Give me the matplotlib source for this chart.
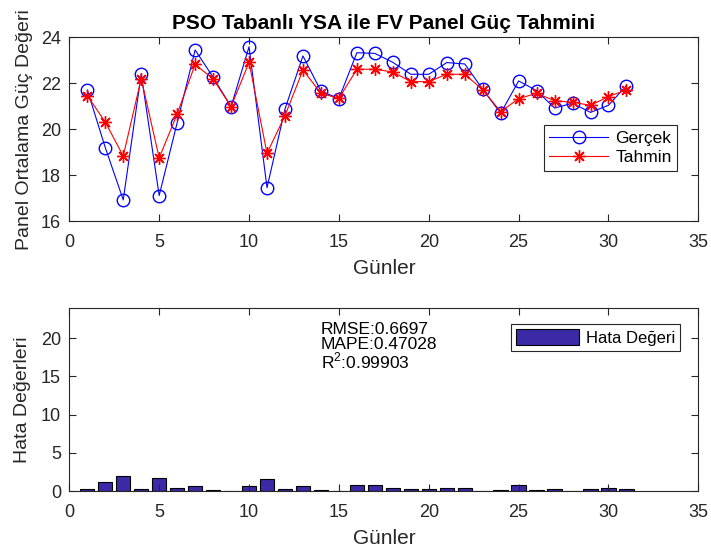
import matplotlib
matplotlib.use('Agg')
import matplotlib.pyplot as plt
import numpy as np

plt.rcParams['font.family'] = ['Liberation Sans', 'DejaVu Sans']
plt.rcParams['mathtext.fontset'] = 'custom'
plt.rcParams['mathtext.rm'] = 'Liberation Sans'

# gunler (days)
gunler = np.arange(1, 32)

# olculen (gercek) panel gucu
gercek = [21.71, 19.20, 16.92, 22.40, 17.11, 20.28, 23.45, 22.26, 20.98, 23.59,
          17.45, 20.88, 23.19, 21.66, 21.33, 23.33, 23.30, 22.91, 22.39, 22.39,
          22.90, 22.84, 21.74, 20.69, 22.10, 21.68, 20.92, 21.13, 20.73, 21.04,
          21.90]

# PSO-YSA tahmini
tahmin = [21.46, 20.31, 18.83, 22.20, 18.75, 20.66, 22.82, 22.19, 20.98, 22.91,
          18.95, 20.59, 22.58, 21.56, 21.34, 22.61, 22.61, 22.49, 22.07, 22.07,
          22.39, 22.39, 21.72, 20.76, 21.33, 21.56, 21.24, 21.17, 21.04, 21.42,
          21.71]

# hata degerleri (bar)
hata = [0.22, 1.16, 1.94, 0.22, 1.64, 0.43, 0.60, 0.09, 0.04, 0.65,
        1.51, 0.26, 0.60, 0.13, 0.04, 0.73, 0.73, 0.43, 0.30, 0.30,
        0.45, 0.45, 0.03, 0.10, 0.77, 0.12, 0.30, 0.05, 0.30, 0.40,
        0.20]

metin = ['RMSE:0.6697', 'MAPE:0.47028', 'R$^{2}$:0.99903']

eksen_renk = '#262626'
fs_tick = 13
fs_xlabel = 15
fs_ylabel = 14


def eksen_ayar(ax):
    ax.tick_params(direction='in', top=True, right=True, length=5, width=0.8,
                   labelsize=fs_tick, colors=eksen_renk)
    ax.tick_params(axis='x', pad=9)
    ax.tick_params(axis='y', pad=6)
    for s in ax.spines.values():
        s.set_color(eksen_renk)
        s.set_linewidth(0.8)


fig = plt.figure(figsize=(7.11, 5.52), dpi=100)

# ust grafik
ax1 = fig.add_axes([0.0975, 0.5996, 0.8847, 0.3328])
ax1.plot(gunler, gercek, color='blue', lw=0.8, marker='o', ms=9,
         mfc='none', mec='blue', mew=1.0, label='Gerçek')
ax1.plot(gunler, tahmin, color='red', lw=0.8, marker=(8, 2, 0), ms=9,
         mec='red', mew=1.0, label='Tahmin')
ax1.set_xlim(0, 35)
ax1.set_ylim(16, 24)
ax1.set_xticks(np.arange(0, 36, 5))
ax1.set_yticks(np.arange(16, 25, 2))
eksen_ayar(ax1)
ax1.set_xlabel('Günler', fontsize=fs_xlabel, color=eksen_renk, labelpad=6)
ax1.set_ylabel('Panel Ortalama Güç Değeri', fontsize=fs_ylabel, color=eksen_renk, labelpad=6)
ax1.set_title('PSO Tabanlı YSA ile FV Panel Güç Tahmini', fontsize=15,
              fontweight='bold', pad=6)
leg = ax1.legend(loc='upper right', bbox_to_anchor=(0.966, 0.52), fontsize=12.5,
                 fancybox=False, framealpha=1, edgecolor='#262626',
                 handlelength=3.4, borderpad=0.3, labelspacing=0.25,
                 handletextpad=0.4, borderaxespad=0)
leg.get_frame().set_linewidth(0.8)

# alt grafik
ax2 = fig.add_axes([0.0975, 0.1105, 0.8847, 0.332])
ax2.bar(gunler, hata, width=0.8, color='#3B2AA6', edgecolor='black',
        linewidth=0.8, label='Hata Değeri')
ax2.set_xlim(0, 35)
ax2.set_ylim(0, 24)
ax2.set_xticks(np.arange(0, 36, 5))
ax2.set_yticks(np.arange(0, 21, 5))
eksen_ayar(ax2)
ax2.set_xlabel('Günler', fontsize=fs_xlabel, color=eksen_renk, labelpad=6)
ax2.set_ylabel('Hata Değerleri', fontsize=fs_ylabel, color=eksen_renk, labelpad=7)
for i, t in enumerate(metin):
    ax2.text(14.0, 22.1 - i * 1.9, t, fontsize=12.5, va='top', ha='left')
leg2 = ax2.legend(loc='upper right', bbox_to_anchor=(0.971, 0.91), fontsize=12,
                  fancybox=False, framealpha=1, edgecolor='#262626',
                  handlelength=3.8, handleheight=1.1, borderpad=0.3,
                  handletextpad=0.4, borderaxespad=0)
leg2.get_frame().set_linewidth(0.8)

fig.savefig('out.png', dpi=100)
